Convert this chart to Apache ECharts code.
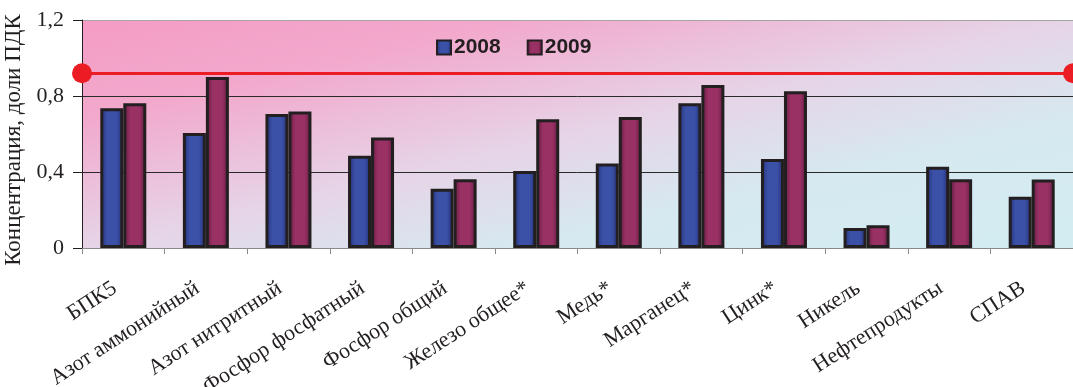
<!DOCTYPE html>
<html>
<head>
<meta charset="utf-8">
<script src="https://cdn.jsdelivr.net/npm/echarts@6/dist/echarts.min.js"></script>
<style>
  html, body { margin: 0; padding: 0; background: #ffffff; }
  #chart { width: 1073px; height: 387px; }
</style>
</head>
<body>
<div id="chart"></div>
<script>
// Показатели качества воды
const categories = [
  'БПК5', 'Азот аммонийный', 'Азот нитритный', 'Фосфор фосфатный',
  'Фосфор общий', 'Железо общее*', 'Медь*', 'Марганец*', 'Цинк*',
  'Никель', 'Нефтепродукты', 'СПАВ'
];
// Средняя концентрация, доли ПДК
const values2008 = [0.735, 0.605, 0.705, 0.485, 0.312, 0.405, 0.445, 0.762, 0.468, 0.105, 0.428, 0.27];
const values2009 = [0.762, 0.90, 0.718, 0.582, 0.362, 0.678, 0.69, 0.858, 0.825, 0.12, 0.362, 0.36];
const seriesNames = ['2008', '2009'];
// Уровень, отмеченный красной линией
const limitLevel = [0.92];

const chart = echarts.init(document.getElementById('chart'));

// Столбики с затемнением к краям
function barFill(edge, mid) {
  return new echarts.graphic.LinearGradient(0, 0, 1, 0, [
    { offset: 0, color: edge },
    { offset: 0.3, color: mid },
    { offset: 0.7, color: mid },
    { offset: 1, color: edge }
  ]);
}
const blue = barFill('#222c73', '#3b51a7');
const maroon = barFill('#5e1a3e', '#9a3165');

// Фон области построения: розовый сверху слева, голубой снизу справа
const plotBg = {
  type: 'linear', global: true,
  x: 82, y: 20, x2: 182, y2: 453,
  colorStops: [
    { offset: 0, color: '#f59cc4' },
    { offset: 0.22, color: '#f2a9cc' },
    { offset: 0.5, color: '#e6d4e7' },
    { offset: 0.72, color: '#d6e9f0' },
    { offset: 1, color: '#d2edf2' }
  ]
};

const serif = 'Liberation Serif';
const ink = '#231f20';

chart.setOption({
  animation: false,
  grid: {
    left: 82, right: 0, top: 20, bottom: 139,
    outerBoundsMode: 'none',
    containLabel: false,
    show: true, backgroundColor: plotBg, borderWidth: 0
  },
  legend: {
    data: seriesNames,
    left: 431, top: 32,
    itemWidth: 14, itemHeight: 14, itemGap: 26,
    icon: 'rect',
    itemStyle: { borderColor: ink, borderWidth: 2 },
    textStyle: { fontFamily: 'Liberation Sans', fontWeight: 'bold', fontSize: 21, color: ink, padding: [0, 0, 0, -2] }
  },
  xAxis: {
    type: 'category',
    data: categories,
    axisLine: { lineStyle: { color: '#8a8a8a', width: 1 } },
    axisTick: { show: true, length: 6, lineStyle: { color: '#8a8a8a' } },
    axisLabel: {
      interval: 0, rotate: 33, margin: 33,
      padding: [0, 10, 0, 0],
      fontFamily: serif, fontSize: 22, color: ink
    }
  },
  yAxis: {
    type: 'value',
    min: 0, max: 1.2, interval: 0.4,
    name: 'Концентрация, доли ПДК',
    nameLocation: 'middle', nameRotate: 90, nameGap: 35,
    nameTextStyle: { fontFamily: serif, fontSize: 23, color: ink, padding: [0, 12, 0, 0] },
    axisLine: { show: true, lineStyle: { color: ink, width: 1 } },
    axisTick: { show: true, length: 9, lineStyle: { color: ink } },
    axisLabel: {
      margin: 18, fontFamily: serif, fontSize: 22, color: ink,
      formatter: v => String(v).replace('.', ',')
    },
    splitLine: {
      show: true,
      lineStyle: { color: ['transparent', '#2a2a2a', '#2a2a2a', '#a5a5a5'], width: 1 }
    }
  },
  series: [
    {
      name: seriesNames[0], type: 'bar', data: values2008,
      barWidth: 23, barGap: '0%',
      itemStyle: { color: blue, borderColor: ink, borderWidth: 3 },
      markLine: {
        silent: true,
        symbol: ['circle', 'circle'], symbolSize: 20,
        label: { show: false },
        lineStyle: { color: '#ec1c24', width: 3, type: 'solid' },
        itemStyle: { color: '#ec1c24' },
        data: limitLevel.map(v => ({ yAxis: v }))
      }
    },
    {
      name: seriesNames[1], type: 'bar', data: values2009,
      barWidth: 23,
      itemStyle: { color: maroon, borderColor: ink, borderWidth: 3 }
    }
  ]
});
</script>
</body>
</html>
